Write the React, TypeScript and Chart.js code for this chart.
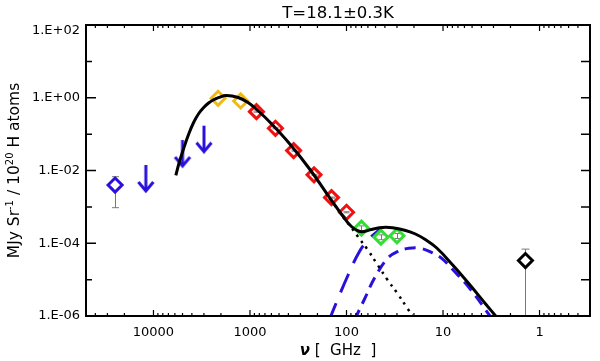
import React, { useEffect, useRef } from 'react';
import { Chart, registerables } from 'chart.js';

Chart.register(...registerables);

// ---------- axis ticks ----------
const xTickValues = [10000, 1000, 100, 10, 1];
const xTickLabels = ['10000', '1000', '100', '10', '1'];
const yTickValues = [1e-6, 1e-5, 1e-4, 1e-3, 1e-2, 1e-1, 1, 10, 100];
const yTickLabels = ['1.E-06', '', '1.E-04', '', '1.E-02', '', '1.E+00', '', '1.E+02'];

const titleText = 'T=18.1±0.3K';

// ---------- observed points ----------
const irasFreq = [24983];
const irasValue = [3.99e-3];
const irasErrLow = [9.5e-4];
const irasErrHigh = [6.76e-3];

const limitFreq = [11992, 4997, 2998];
const limitValue = [0.0142, 0.0689, 0.171];

const dirbeFreq = [2141, 1249];
const dirbeValue = [0.966, 0.815];

const hfiFreq = [857, 545, 353, 217, 143, 100];
const hfiValue = [0.415, 0.145, 0.0352, 7.6e-3, 1.8e-3, 7.1e-4];
const hfiErrLow = [0.40, 0.140, 0.0340, 7.35e-3, 1.74e-3, 6.85e-4];
const hfiErrHigh = [0.43, 0.150, 0.0364, 7.85e-3, 1.86e-3, 7.35e-4];

const lfiFreq = [70, 44, 30];
const lfiValue = [2.6e-4, 1.47e-4, 1.6e-4];
const lfiErrLow = [2.2e-4, 1.25e-4, 1.35e-4];
const lfiErrHigh = [3.0e-4, 1.7e-4, 1.85e-4];

const radioFreq = [1.4];
const radioValue = [3.35e-5];
const radioErrLow = [1e-9];
const radioErrHigh = [6.9e-5];

// ---------- model curves ----------
const totalFreq = [5866, 5429, 4829, 4292, 3815, 3394, 3017, 2683, 2385, 2121, 1758, 1326, 1048, 828.5, 606.2, 378.9, 236.9, 148.1, 108.1, 88.92, 75.43, 65.52, 55.58, 45.73, 39.07, 33.38, 24.42, 19.31, 15.27, 11.6, 7.851, 5.303, 3.582, 2.831, 2.559];
const totalValue = [7.29e-3, 0.01607, 0.04288, 0.1041, 0.2154, 0.369, 0.5395, 0.7172, 0.8782, 1.0095, 1.153, 1.016, 0.7403, 0.4461, 0.1984, 0.05023, 0.01032, 1.721e-3, 5.37e-4, 2.887e-4, 2.172e-4, 2.104e-4, 2.388e-4, 2.659e-4, 2.745e-4, 2.659e-4, 2.241e-4, 1.796e-4, 1.268e-4, 7.40e-5, 2.445e-5, 7.35e-6, 2.071e-6, 9.81e-7, 7.06e-7];

const dustFreq = [148, 108, 82.3, 76.1, 60.1, 47.5, 37.5, 29.7, 23.4, 19.3];
const dustValue = [1.7e-3, 5.2e-4, 2.05e-4, 1.51e-4, 6.52e-5, 2.52e-5, 9.77e-6, 4.2e-6, 1.63e-6, 7.8e-7];

const spinAFreq = [152.8, 137, 96.2, 73.6, 57.8, 48.3, 45];
const spinAValue = [6.8e-7, 1.46e-6, 1.34e-5, 5.86e-5, 1.37e-4, 2.04e-4, 2.45e-4];

const spinBFreq = [82.8, 79, 65, 51.4, 37.5, 29.7, 22.6, 17.2, 12.6, 10.3, 7.85, 5.3, 3.31, 3.09];
const spinBValue = [7.8e-7, 1.0e-6, 2.93e-6, 1.09e-5, 3.86e-5, 5.86e-5, 7.26e-5, 7.26e-5, 5.3e-5, 3.86e-5, 1.84e-5, 5.77e-6, 1.06e-6, 7.8e-7];

const BLUE = '#2a10dc';
const FONT = '"DejaVu Sans", sans-serif';

const pts = (f: number[], v: number[]) => f.map((x, i) => ({ x, y: v[i] }));

function makeArrow(color: string) {
  const c = document.createElement('canvas');
  c.width = 20;
  c.height = 60;
  const g = c.getContext('2d')!;
  g.strokeStyle = color;
  g.lineWidth = 3;
  g.beginPath();
  g.moveTo(10, 30);
  g.lineTo(10, 56);
  g.stroke();
  g.beginPath();
  g.moveTo(2.5, 47);
  g.lineTo(10, 56);
  g.lineTo(17.5, 47);
  g.stroke();
  return c;
}

const errorBarPlugin = {
  id: 'errorBars',
  beforeDatasetsDraw(chart: any) {
    const { ctx, chartArea: a, scales } = chart;
    ctx.save();
    ctx.beginPath();
    ctx.rect(a.left, a.top, a.right - a.left, a.bottom - a.top);
    ctx.clip();
    ctx.strokeStyle = '#7a7a7a';
    ctx.lineWidth = 1;
    chart.data.datasets.forEach((ds: any) => {
      if (!ds.errLow) return;
      ds.data.forEach((p: any, i: number) => {
        const x = Math.round(scales.x.getPixelForValue(p.x)) + 0.5;
        const yl = scales.y.getPixelForValue(ds.errLow[i]);
        const yh = scales.y.getPixelForValue(ds.errHigh[i]);
        const c = ds.capHalf;
        ctx.beginPath();
        ctx.moveTo(x, yl);
        ctx.lineTo(x, yh);
        ctx.moveTo(x - c, yh);
        ctx.lineTo(x + c, yh);
        ctx.moveTo(x - c, yl);
        ctx.lineTo(x + c, yl);
        ctx.stroke();
      });
    });
    ctx.restore();
  },
};

const framePlugin = {
  id: 'frame',
  afterDraw(chart: any) {
    const { ctx, chartArea: a, scales } = chart;
    const x = scales.x;
    const y = scales.y;
    ctx.save();
    ctx.strokeStyle = '#000';
    // y ticks
    ctx.lineWidth = 1.5;
    yTickValues.forEach((v, i) => {
      const py = y.getPixelForValue(v);
      const major = yTickLabels[i] !== '';
      ctx.beginPath();
      ctx.moveTo(a.left, py);
      ctx.lineTo(a.left + (major ? 10 : 6), py);
      ctx.moveTo(a.right, py);
      ctx.lineTo(a.right - 9, py);
      ctx.stroke();
    });
    // x ticks (decades + minor)
    ctx.lineWidth = 1.2;
    for (let e = -1; e <= 4; e++) {
      for (let m = 1; m <= 9; m++) {
        const v = m * Math.pow(10, e);
        if (v < x.min - 1e-9 || v > x.max) continue;
        const px = x.getPixelForValue(v);
        const len = m === 1 ? 6 : 3;
        ctx.beginPath();
        ctx.moveTo(px, a.bottom);
        ctx.lineTo(px, a.bottom - len);
        ctx.moveTo(px, a.top);
        ctx.lineTo(px, a.top + len);
        ctx.stroke();
      }
    }
    // frame
    ctx.lineWidth = 2;
    ctx.strokeRect(a.left, a.top, a.right - a.left, a.bottom - a.top);

    ctx.fillStyle = '#000';
    // y tick labels
    ctx.font = `13px ${FONT}`;
    ctx.textAlign = 'right';
    ctx.textBaseline = 'middle';
    yTickValues.forEach((v, i) => {
      if (!yTickLabels[i]) return;
      const py = Math.max(y.getPixelForValue(v), a.top + 6);
      ctx.fillText(yTickLabels[i], a.left - 6, py);
    });

    // title
    ctx.font = `16.5px ${FONT}`;
    ctx.textAlign = 'center';
    ctx.textBaseline = 'alphabetic';
    ctx.fillText(titleText, (a.left + a.right) / 2, 17.5);

    // x title
    const cx = (a.left + a.right) / 2;
    const partsX = [
      { t: 'ν', f: `italic bold 15px ${FONT}` },
      { t: ' [  GHz  ]', f: `15px ${FONT}` },
    ];
    let wx = 0;
    partsX.forEach((p) => { ctx.font = p.f; wx += ctx.measureText(p.t).width; });
    let sx = cx - wx / 2;
    ctx.textAlign = 'left';
    partsX.forEach((p) => {
      ctx.font = p.f;
      ctx.fillText(p.t, sx, 355);
      sx += ctx.measureText(p.t).width;
    });

    // y title (rotated, with superscripts)
    const partsY = [
      { t: 'MJy Sr', sup: false },
      { t: '-1', sup: true },
      { t: ' / 10', sup: false },
      { t: '20', sup: true },
      { t: ' H atoms', sup: false },
    ];
    const fN = `15.5px ${FONT}`;
    const fS = `10px ${FONT}`;
    let wy = 0;
    partsY.forEach((p) => { ctx.font = p.sup ? fS : fN; wy += ctx.measureText(p.t).width; });
    ctx.save();
    ctx.translate(18.5, (a.top + a.bottom) / 2);
    ctx.rotate(-Math.PI / 2);
    let sy = -wy / 2;
    partsY.forEach((p) => {
      ctx.font = p.sup ? fS : fN;
      ctx.fillText(p.t, sy, p.sup ? -6 : 0);
      sy += ctx.measureText(p.t).width;
    });
    ctx.restore();
    ctx.restore();
  },
};

export default function App() {
  const ref = useRef<HTMLCanvasElement | null>(null);

  useEffect(() => {
    if (!ref.current) return;
    const arrow = makeArrow(BLUE);
    const diamond = (color: string, fill: string) => ({
      showLine: false,
      pointStyle: 'rectRot',
      pointRadius: 7,
      pointBorderWidth: 3,
      pointBorderColor: color,
      pointBackgroundColor: fill,
      borderColor: color,
      backgroundColor: fill,
    });
    const curve = { pointRadius: 0, tension: 0.4, fill: false };
    const chart = new Chart(ref.current, {
      type: 'line',
      data: {
        datasets: [
          {
            label: 'total',
            data: pts(totalFreq, totalValue),
            borderColor: '#000',
            borderWidth: 3,
            ...curve,
            order: 0,
          },
          {
            label: 'dust',
            data: pts(dustFreq, dustValue),
            borderColor: '#000',
            borderWidth: 2.5,
            borderDash: [2.5, 5],
            ...curve,
            order: 5,
          },
          {
            label: 'spinning A',
            data: pts(spinAFreq, spinAValue),
            borderColor: BLUE,
            borderWidth: 3,
            borderDash: [20, 12],
            ...curve,
            order: 5,
          },
          {
            label: 'spinning B',
            data: pts(spinBFreq, spinBValue),
            borderColor: BLUE,
            borderWidth: 3,
            borderDash: [11, 7],
            ...curve,
            order: 5,
          },
          {
            label: 'IRAS 12',
            data: pts(irasFreq, irasValue),
            ...diamond(BLUE, '#fff'),
            errLow: irasErrLow,
            errHigh: irasErrHigh,
            capHalf: 3.5,
            order: 2,
          },
          {
            label: 'upper limits',
            data: pts(limitFreq, limitValue),
            showLine: false,
            pointStyle: arrow,
            pointRadius: 9,
            order: 2,
          },
          {
            label: 'DIRBE',
            data: pts(dirbeFreq, dirbeValue),
            ...diamond('#eebb11', 'rgba(0,0,0,0)'),
            order: 2,
          },
          {
            label: 'HFI',
            data: pts(hfiFreq, hfiValue),
            ...diamond('#f01010', 'rgba(0,0,0,0)'),
            errLow: hfiErrLow,
            errHigh: hfiErrHigh,
            capHalf: 3,
            order: 2,
          },
          {
            label: 'LFI',
            data: pts(lfiFreq, lfiValue),
            ...diamond('#33dd33', 'rgba(0,0,0,0)'),
            errLow: lfiErrLow,
            errHigh: lfiErrHigh,
            capHalf: 3,
            order: 2,
          },
          {
            label: 'radio',
            data: pts(radioFreq, radioValue),
            ...diamond('#000', '#fff'),
            errLow: radioErrLow,
            errHigh: radioErrHigh,
            capHalf: 4,
            order: 2,
          },
        ] as any,
      },
      options: {
        animation: false,
        responsive: true,
        maintainAspectRatio: false,
        layout: { padding: { top: 25, right: 4, left: 0, bottom: 0 } },
        plugins: {
          legend: { display: false },
          tooltip: { enabled: false },
          title: { display: false },
        },
        scales: {
          x: {
            type: 'logarithmic',
            reverse: true,
            min: 0.3,
            max: 50000,
            afterBuildTicks: (s: any) => {
              s.ticks = xTickValues.map((v) => ({ value: v }));
            },
            afterFit: (s: any) => {
              s.height = 45;
            },
            grid: { display: false, drawTicks: false },
            border: { display: false },
            ticks: {
              autoSkip: false,
              maxRotation: 0,
              minRotation: 0,
              padding: 9,
              color: '#000',
              font: { family: FONT, size: 13 },
              callback: (v: any) => {
                const i = xTickValues.indexOf(Number(v));
                return i >= 0 ? xTickLabels[i] : '';
              },
            },
          },
          y: {
            type: 'logarithmic',
            min: 1e-6,
            max: 100,
            afterBuildTicks: (s: any) => {
              s.ticks = yTickValues.map((v) => ({ value: v }));
            },
            afterFit: (s: any) => {
              s.width = 86;
            },
            grid: { display: false, drawTicks: false },
            border: { display: false },
            ticks: { display: false },
          },
        },
      } as any,
      plugins: [errorBarPlugin, framePlugin],
    });
    return () => chart.destroy();
  }, []);

  return (
    <div style={{ position: 'fixed', left: 0, top: 0, width: 600, height: 361, background: '#fff' }}>
      <canvas ref={ref} />
    </div>
  );
}
